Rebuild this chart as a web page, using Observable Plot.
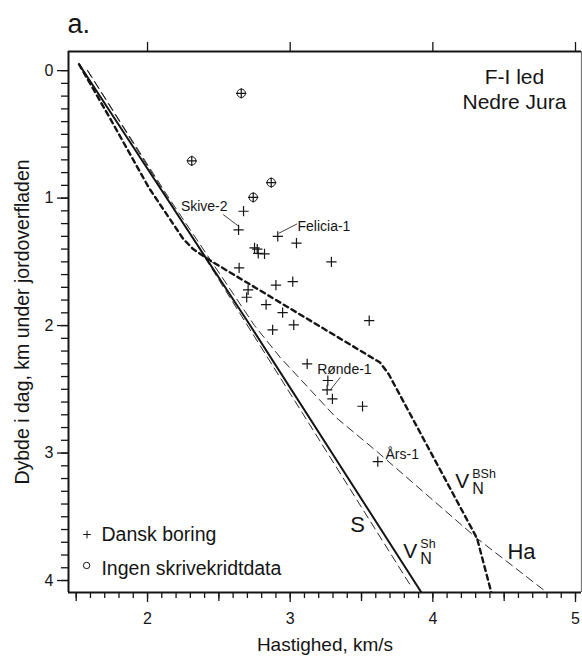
<!DOCTYPE html>
<html>
<head>
<meta charset="utf-8">
<script src="https://cdn.jsdelivr.net/npm/d3@7"></script>
<script src="https://cdn.jsdelivr.net/npm/@observablehq/plot@0.6"></script>
<style>
  html, body { margin: 0; padding: 0; background: #fff; }
  #chart { width: 582px; height: 656px; }
</style>
</head>
<body>
<div id="chart"></div>
<script>
// ---------- data ----------
// Danish wells (Dansk boring): velocity km/s, depth km
const boreV = [2.657, 2.31, 2.867, 2.741, 2.673, 2.638, 2.913, 3.044, 2.750, 2.769, 2.776, 2.820, 3.289, 2.642, 3.018, 2.900, 2.705, 2.695, 2.831, 2.947, 3.554, 3.025, 2.877, 3.119, 3.264, 3.259, 3.296, 3.507, 3.614];
const boreZ = [0.178, 0.708, 0.878, 0.994, 1.103, 1.250, 1.300, 1.354, 1.391, 1.400, 1.433, 1.438, 1.500, 1.548, 1.655, 1.682, 1.720, 1.778, 1.835, 1.898, 1.961, 1.995, 2.034, 2.300, 2.431, 2.505, 2.575, 2.633, 3.067];
// wells without chalk data (Ingen skrivekridtdata)
const noChalkV = [2.657, 2.31, 2.867, 2.741];
const noChalkZ = [0.178, 0.708, 0.878, 0.994];

// trend curves
const vnShV = [1.52, 2.72, 3.92];
const vnShZ = [-0.05, 2.0, 4.094];
const sV = [1.58, 3.85];
const sZ = [0.0, 4.05];
const haV = [1.58, 2.15, 2.45, 2.75, 2.93, 3.32, 3.61, 4.31, 4.80];
const haZ = [0.0, 1.0, 1.5, 2.0, 2.25, 2.72, 2.99, 3.67, 4.094];
const vnBShV = [1.52, 1.74, 2.01, 2.25, 2.32, 2.44, 3.63, 3.69, 4.31, 4.41];
const vnBShZ = [-0.05, 0.38, 0.92, 1.32, 1.40, 1.49, 2.29, 2.38, 3.67, 4.094];

// well name labels
const wellNamesLeft = ["Skive-2"];
const wellLeftV = [2.561];
const wellLeftZ = [1.067];
const wellNamesRight = ["Felicia-1", "Rønde-1", "Års-1"];
const wellRightV = [3.051, 3.189, 3.668];
const wellRightZ = [1.220, 2.341, 3.008];
// leader lines
const leaderV1 = [2.530, 3.049, 3.352];
const leaderZ1 = [1.129, 1.202, 2.405];
const leaderV2 = [2.643, 2.920, 3.282];
const leaderZ2 = [1.224, 1.276, 2.504];

// axes
const xDomain = [1.446, 5.042];
const yDomain = [-0.15, 4.094];
const xMajor = [2, 3, 4, 5];
const xHalf = [1.5, 2.5, 3.5, 4.5];
const xMinor = d3.range(15, 51).map(d => d / 10);
const yMajor = [0, 1, 2, 3, 4];
const yMinor = d3.range(0, 41).map(d => d / 10);

// ---------- build tables ----------
const bores = boreV.map((v, i) => ({v, z: boreZ[i]}));
const noChalk = noChalkV.map((v, i) => ({v, z: noChalkZ[i]}));
const toLine = (V, Z) => V.map((v, i) => ({v, z: Z[i]}));
const wellsLeft = wellNamesLeft.map((name, i) => ({name, v: wellLeftV[i], z: wellLeftZ[i]}));
const wellsRight = wellNamesRight.map((name, i) => ({name, v: wellRightV[i], z: wellRightZ[i]}));
const leaders = leaderV1.map((v, i) => ({v1: v, z1: leaderZ1[i], v2: leaderV2[i], z2: leaderZ2[i]}));

const ink = "#151515";
const font = "'Liberation Sans', Arial, sans-serif";

const chart = Plot.plot({
  width: 582,
  height: 656,
  marginLeft: 68,
  marginRight: 1,
  marginTop: 51,
  marginBottom: 64,
  x: {domain: xDomain},
  y: {domain: yDomain, reverse: true},
  style: {fontFamily: font, fontSize: "16px", background: "#fff", color: ink},
  marks: [
    // axes ticks
    Plot.axisX(xMinor, {anchor: "bottom", tickSize: 6, tickFormat: () => "", label: null, strokeWidth: 1.3}),
    Plot.axisX(xHalf, {anchor: "bottom", tickSize: 9, tickFormat: () => "", label: null, strokeWidth: 1.3}),
    Plot.axisX(xMajor, {anchor: "bottom", tickSize: 10, tickPadding: 10, tickFormat: d => String(d), label: null, strokeWidth: 1.3, fontSize: 16}),
    Plot.axisX(xMajor, {anchor: "top", tickSize: 10, tickFormat: () => "", label: null, strokeWidth: 1.3}),
    Plot.axisY(yMinor, {anchor: "left", tickSize: 7, tickFormat: () => "", label: null, strokeWidth: 1.3}),
    Plot.axisY(yMajor, {anchor: "left", tickSize: 11, tickPadding: 4, tickFormat: d => String(d), label: null, strokeWidth: 1.3, fontSize: 16}),
    // frame
    Plot.ruleX([xDomain[0]], {stroke: ink, strokeWidth: 2}),
    Plot.ruleX([xDomain[1]], {stroke: "#777", strokeWidth: 1.2}),
    Plot.ruleY([yDomain[0]], {stroke: ink, strokeWidth: 2}),
    Plot.ruleY([yDomain[1]], {stroke: ink, strokeWidth: 2}),
    // trend lines
    Plot.line(toLine(sV, sZ), {x: "v", y: "z", stroke: ink, strokeWidth: 0.9, strokeDasharray: "8,5", clip: true}),
    Plot.line(toLine(haV, haZ), {x: "v", y: "z", stroke: ink, strokeWidth: 0.9, strokeDasharray: "8,5", clip: true}),
    Plot.line(toLine(vnBShV, vnBShZ), {x: "v", y: "z", stroke: ink, strokeWidth: 2.4, strokeDasharray: "5,4", clip: true}),
    Plot.line(toLine(vnShV, vnShZ), {x: "v", y: "z", stroke: ink, strokeWidth: 2, clip: true}),
    // data points
    Plot.dot(bores, {x: "v", y: "z", symbol: "plus", r: 3.4, stroke: ink, strokeWidth: 1.2}),
    Plot.dot(noChalk, {x: "v", y: "z", symbol: "circle", r: 4.2, stroke: ink, strokeWidth: 1, fill: "none"}),
    // leaders and well names
    Plot.link(leaders, {x1: "v1", y1: "z1", x2: "v2", y2: "z2", stroke: ink, strokeWidth: 0.8}),
    Plot.text(wellsLeft, {x: "v", y: "z", text: "name", textAnchor: "end", fontSize: 14, fill: ink}),
    Plot.text(wellsRight, {x: "v", y: "z", text: "name", textAnchor: "start", fontSize: 14, fill: ink}),
    // curve labels
    Plot.text(["S"], {x: 3.472, y: 3.565, fontSize: 22, fill: ink}),
    Plot.text(["Ha"], {x: 4.621, y: 3.773, fontSize: 22, fill: ink}),
    Plot.text(["V"], {x: 3.842, y: 3.773, fontSize: 21, fill: ink}),
    Plot.text(["N"], {x: 3.912, y: 3.827, fontSize: 16, textAnchor: "start", fill: ink}),
    Plot.text(["Sh"], {x: 3.912, y: 3.715, fontSize: 12.5, textAnchor: "start", fill: ink}),
    Plot.text(["V"], {x: 4.206, y: 3.224, fontSize: 21, fill: ink}),
    Plot.text(["N"], {x: 4.276, y: 3.278, fontSize: 16, textAnchor: "start", fill: ink}),
    Plot.text(["BSh"], {x: 4.276, y: 3.166, fontSize: 12.5, textAnchor: "start", fill: ink}),
    // unit label
    Plot.text(["F-I led"], {x: 4.572, y: 0.049, fontSize: 21, fill: ink}),
    Plot.text(["Nedre Jura"], {x: 4.572, y: 0.245, fontSize: 21, fill: ink}),
    // legend
    Plot.dot([{v: 1.576, z: 3.639}], {x: "v", y: "z", symbol: "plus", r: 2.6, stroke: ink, strokeWidth: 1}),
    Plot.dot([{v: 1.573, z: 3.882}], {x: "v", y: "z", symbol: "circle", r: 3.2, stroke: ink, strokeWidth: 1, fill: "none"}),
    Plot.text(["Dansk boring"], {x: 1.677, y: 3.639, textAnchor: "start", fontSize: 19.5, fill: ink}),
    Plot.text(["Ingen skrivekridtdata"], {x: 1.677, y: 3.906, textAnchor: "start", fontSize: 19.5, fill: ink}),
    // titles
    Plot.text(["Hastighed, km/s"], {frameAnchor: "bottom", lineAnchor: "middle", textAnchor: "middle", dy: 52, fontSize: 19, fill: ink}),
    Plot.text(["Dybde i dag, km under jordoverfladen"], {frameAnchor: "left", textAnchor: "middle", lineAnchor: "middle", dx: -46, rotate: -90, fontSize: 19.5, fill: ink}),
    Plot.text(["a."], {frameAnchor: "top-left", textAnchor: "start", lineAnchor: "middle", dx: -1, dy: -27, fontSize: 27, fill: ink})
  ]
});
document.getElementById("chart").appendChild(chart);
</script>
</body>
</html>
